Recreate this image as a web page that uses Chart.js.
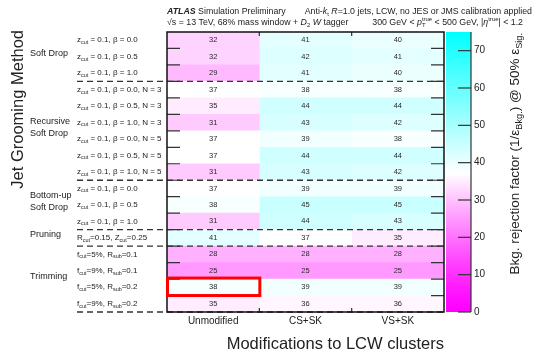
<!DOCTYPE html>
<html>
<head>
<meta charset="utf-8">
<script src="https://cdn.jsdelivr.net/npm/chart.js@4.4.1/dist/chart.umd.min.js"></script>
<style>
  html, body { margin: 0; padding: 0; background: #fff; }
  #wrap { width: 533px; height: 352px; position: relative; }
</style>
</head>
<body>
<div id="wrap"><canvas id="chart"></canvas></div>
<script>
// Rows of the table (top to bottom), _{..} = subscript, ^{..} = superscript, %{..} = italic
const rowLabels = [
  'z_{cut} = 0.1, β = 0.0',
  'z_{cut} = 0.1, β = 0.5',
  'z_{cut} = 0.1, β = 1.0',
  'z_{cut} = 0.1, β = 0.0, N = 3',
  'z_{cut} = 0.1, β = 0.5, N = 3',
  'z_{cut} = 0.1, β = 1.0, N = 3',
  'z_{cut} = 0.1, β = 0.0, N = 5',
  'z_{cut} = 0.1, β = 0.5, N = 5',
  'z_{cut} = 0.1, β = 1.0, N = 5',
  'z_{cut} = 0.1, β = 0.0',
  'z_{cut} = 0.1, β = 0.5',
  'z_{cut} = 0.1, β = 1.0',
  'R_{cut}=0.15, Z_{cut}=0.25',
  'f_{cut}=5%, R_{sub}=0.1',
  'f_{cut}=9%, R_{sub}=0.1',
  'f_{cut}=5%, R_{sub}=0.2',
  'f_{cut}=9%, R_{sub}=0.2',
];
const columnLabels = ['Unmodified', 'CS+SK', 'VS+SK'];

const unmodified = [32, 32, 29, 37, 35, 31, 37, 37, 31, 37, 38, 31, 41, 28, 25, 38, 35];
const csSk       = [41, 42, 41, 38, 44, 43, 39, 44, 43, 39, 45, 44, 37, 28, 25, 39, 36];
const vsSk       = [40, 41, 40, 38, 44, 42, 38, 44, 42, 39, 45, 43, 35, 28, 25, 39, 36];

const groupNames = [['Soft Drop'], ['Recursive', 'Soft Drop'], ['Bottom-up', 'Soft Drop'], ['Pruning'], ['Trimming']];
const groupRows = [[0, 2], [3, 8], [9, 11], [12, 12], [13, 16]];

const colourTicks = [0, 10, 20, 30, 40, 50, 60, 70];
const colourMin = 0;
const colourMax = 75;
const colourWhite = 37;
const highlightRow = 15;
const highlightCol = 0;

const FONT = '"Liberation Sans", Arial, Helvetica, sans-serif';

// magenta -> white -> cyan palette
function cellColour(v) {
  if (v <= colourWhite) {
    const t = Math.max(0, (v - colourMin) / (colourWhite - colourMin));
    return `rgb(255, ${Math.round(255 * Math.pow(t, 1.3))}, 255)`;
  }
  const t = Math.min(1, (v - colourWhite) / (colourMax - colourWhite));
  return `rgb(${Math.round(255 * (1 - t))}, 255, 255)`;
}

// --- small rich-text helper (sub/superscripts, italics) ---
function parseRich(str) {
  const out = [];
  const re = /([_^%])\{([^}]*)\}/g;
  let last = 0, m;
  while ((m = re.exec(str))) {
    if (m.index > last) out.push({ t: str.slice(last, m.index), k: 'n' });
    out.push({ t: m[2], k: m[1] === '_' ? 'sub' : m[1] === '^' ? 'sup' : 'it' });
    last = re.lastIndex;
  }
  if (last < str.length) out.push({ t: str.slice(last), k: 'n' });
  return out;
}

function segFont(seg, size, bold) {
  const small = seg.k === 'sub' || seg.k === 'sup';
  const px = small ? size * 0.68 : size;
  return `${seg.k === 'it' ? 'italic ' : ''}${bold ? 'bold ' : ''}${px}px ${FONT}`;
}

function layoutRich(ctx, str, size, bold) {
  const segs = parseRich(str);
  let x = 0, subStart = null, subEnd = 0;
  const placed = [];
  segs.forEach((seg, i) => {
    ctx.font = segFont(seg, size, bold);
    const w = ctx.measureText(seg.t).width;
    let sx = x;
    if (seg.k === 'sup' && i > 0 && segs[i - 1].k === 'sub') sx = subStart;
    const dy = seg.k === 'sub' ? size * 0.3 : seg.k === 'sup' ? -size * 0.38 : 0;
    placed.push({ seg, x: sx, dy });
    if (seg.k === 'sub') { subStart = sx; subEnd = sx + w; x = sx + w; }
    else if (seg.k === 'sup' && sx === subStart) { x = Math.max(subEnd, sx + w); }
    else x = sx + w;
  });
  return { placed, width: x };
}

function drawRich(ctx, str, x, y, size, align, bold) {
  const lay = layoutRich(ctx, str, size, bold);
  let x0 = x;
  if (align === 'center') x0 = x - lay.width / 2;
  if (align === 'right') x0 = x - lay.width;
  ctx.textAlign = 'left';
  ctx.textBaseline = 'middle';
  lay.placed.forEach(p => {
    ctx.font = segFont(p.seg, size, bold);
    ctx.fillText(p.seg.t, x0 + p.x, y + p.dy);
  });
  return lay.width;
}

const decor = {
  id: 'decor',
  afterDraw(chart) {
    const ctx = chart.ctx;
    const area = chart.chartArea;
    const xs = chart.scales.x;
    const ys = chart.scales.y;
    const cols = [unmodified, csSk, vsSk];
    const rowEdge = i => ys.getPixelForValue(i - 0.5);
    // colour bar spans the same height as the table
    const cbPixel = v => area.bottom - (v - colourMin) / (colourMax - colourMin) * (area.bottom - area.top);

    ctx.save();
    ctx.fillStyle = '#2a2a2a';

    // cell values
    cols.forEach((vals, c) => {
      vals.forEach((v, i) => {
        ctx.font = `7.5px ${FONT}`;
        ctx.textAlign = 'center';
        ctx.textBaseline = 'middle';
        ctx.fillText(String(v), xs.getPixelForValue(c + 0.5), ys.getPixelForValue(i));
      });
    });

    // row-boundary ticks
    ctx.strokeStyle = '#333';
    ctx.lineWidth = 1.2;
    for (let i = 1; i < rowLabels.length; i++) {
      const yy = rowEdge(i);
      ctx.beginPath();
      ctx.moveTo(area.left, yy); ctx.lineTo(area.left + 13, yy);
      ctx.moveTo(area.right, yy); ctx.lineTo(area.right - 13, yy);
      ctx.stroke();
    }
    for (let c = 1; c < columnLabels.length; c++) {
      const xx = xs.getPixelForValue(c);
      ctx.beginPath();
      ctx.moveTo(xx, area.top); ctx.lineTo(xx, area.top + 4);
      ctx.moveTo(xx, area.bottom); ctx.lineTo(xx, area.bottom - 4);
      ctx.stroke();
    }

    // dashed group separators
    ctx.setLineDash([6, 4]);
    ctx.lineWidth = 1.3;
    groupRows.forEach(([, last]) => {
      const yy = rowEdge(last + 1);
      ctx.beginPath();
      ctx.moveTo(77, yy);
      ctx.lineTo(area.right, yy);
      ctx.stroke();
    });
    ctx.setLineDash([]);

    // frame
    ctx.strokeStyle = '#111';
    ctx.lineWidth = 1.5;
    ctx.strokeRect(area.left, area.top, area.right - area.left, area.bottom - area.top);

    // highlighted cell
    ctx.strokeStyle = '#f00';
    ctx.lineWidth = 3;
    const hx0 = xs.getPixelForValue(highlightCol);
    const hx1 = xs.getPixelForValue(highlightCol + 1);
    const hy0 = rowEdge(highlightRow);
    const hy1 = rowEdge(highlightRow + 1);
    ctx.strokeRect(hx0 + 0.5, hy0 - 1, hx1 - hx0, hy1 - hy0 + 1);

    // colour bar
    const cbL = 446, cbR = 471;
    const grad = ctx.createLinearGradient(0, cbPixel(colourMin), 0, cbPixel(colourMax));
    for (let v = colourMin; v <= colourMax; v += 2.5) {
      grad.addColorStop((v - colourMin) / (colourMax - colourMin), cellColour(v));
    }
    grad.addColorStop((colourWhite - colourMin) / (colourMax - colourMin), cellColour(colourWhite));
    ctx.fillStyle = grad;
    ctx.fillRect(cbL, area.top, cbR - cbL, area.bottom - area.top);
    ctx.strokeStyle = '#333';
    ctx.lineWidth = 1.2;
    ctx.beginPath();
    ctx.moveTo(cbR, area.top); ctx.lineTo(cbR, area.bottom);
    ctx.stroke();
    ctx.fillStyle = '#222';
    colourTicks.forEach(t => {
      const yy = cbPixel(t);
      ctx.beginPath();
      ctx.moveTo(cbR - 13, yy); ctx.lineTo(cbR, yy);
      ctx.stroke();
      ctx.font = `10px ${FONT}`;
      ctx.textAlign = 'left';
      ctx.textBaseline = 'middle';
      ctx.fillText(String(t), cbR + 3, yy);
    });

    // row labels
    ctx.fillStyle = '#222';
    rowLabels.forEach((lab, i) => drawRich(ctx, lab, 77, ys.getPixelForValue(i), 8, 'left'));

    // group names
    groupNames.forEach((lines, g) => {
      const [a, b] = groupRows[g];
      const yc = (ys.getPixelForValue(a) + ys.getPixelForValue(b)) / 2 - 3;
      lines.forEach((ln, k) => {
        const yy = yc + (k - (lines.length - 1) / 2) * 12;
        drawRich(ctx, ln, 30, yy, 9, 'left');
      });
    });

    // column labels
    columnLabels.forEach((lab, c) => {
      drawRich(ctx, lab, xs.getPixelForValue(c + 0.5), 321, 10, 'center');
    });

    // axis titles
    drawRich(ctx, 'Modifications to LCW clusters', area.right, 344, 16.5, 'right');

    ctx.save();
    ctx.translate(18, 30);
    ctx.rotate(-Math.PI / 2);
    drawRich(ctx, 'Jet Grooming Method', 0, 0, 16.5, 'right');
    ctx.restore();

    ctx.save();
    ctx.translate(515, 33);
    ctx.rotate(-Math.PI / 2);
    drawRich(ctx, 'Bkg. rejection factor (1/ε_{Bkg.}) @ 50% ε_{Sig.}', 0, 0, 13.5, 'right');
    ctx.restore();

    // header
    const hs = 8.8;
    const w = drawRich(ctx, '%{ATLAS}', 167, 12, hs, 'left', true);
    drawRich(ctx, ' Simulation Preliminary', 167 + w, 12, hs, 'left');
    drawRich(ctx, 'Anti-%{k}_{t} %{R}=1.0 jets, LCW, no JES or JMS calibration applied', 532, 12, hs, 'right');
    drawRich(ctx, '√s = 13 TeV, 68% mass window + %{D}_{2} %{W} tagger', 167, 23, hs, 'left');
    drawRich(ctx, '300 GeV < %{p}_{T}^{true} < 500 GeV, |%{η}^{true}| < 1.2', 523, 23, hs, 'right');

    ctx.restore();
  }
};

new Chart(document.getElementById('chart'), {
  type: 'bar',
  data: {
    labels: rowLabels,
    datasets: [unmodified, csSk, vsSk].map((vals, c) => ({
      label: columnLabels[c],
      data: vals.map(() => [c, c + 1]),
      backgroundColor: vals.map(cellColour),
      borderWidth: 0,
      barPercentage: 1,
      categoryPercentage: 1,
      grouped: false,
    })),
  },
  options: {
    indexAxis: 'y',
    responsive: true,
    maintainAspectRatio: false,
    animation: false,
    layout: { padding: { left: 167, top: 32, right: 89, bottom: 40 } },
    plugins: { legend: { display: false }, tooltip: { enabled: false } },
    scales: {
      x: { type: 'linear', min: 0, max: 3, display: false },
      y: { type: 'category', display: false },
    },
  },
  plugins: [decor],
});
</script>
</body>
</html>
